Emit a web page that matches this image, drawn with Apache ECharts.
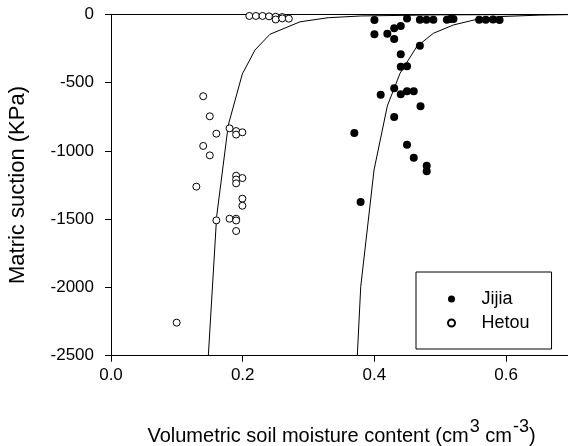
<!DOCTYPE html>
<html>
<head>
<meta charset="utf-8">
<script src="https://cdn.jsdelivr.net/npm/echarts@6/dist/echarts.min.js"></script>
<style>html,body{margin:0;padding:0;background:#fff}#c{width:568px;height:446px}</style>
</head>
<body>
<div id="c"></div>
<script>
var xTicks = [0.0, 0.2, 0.4, 0.6];
var yTicks = [0, -500, -1000, -1500, -2000, -2500];

var jijiaX = [0.400, 0.4495, 0.469, 0.479, 0.4895, 0.51, 0.515, 0.52, 0.559, 0.569, 0.580, 0.590,
  0.400, 0.4196, 0.43, 0.44, 0.43, 0.469, 0.44, 0.44, 0.4495, 0.43, 0.4095, 0.44, 0.4495, 0.4597,
  0.47, 0.43, 0.3695, 0.4495, 0.4597, 0.4794, 0.4794, 0.379];
var jijiaY = [-42, -30, -40, -40, -40, -40, -35, -35, -40, -40, -38, -42,
  -147, -142, -103, -86, -181, -230, -293, -384, -381, -542, -589, -586, -564, -564,
  -674, -752, -869, -955, -1050, -1109, -1150, -1375];

var hetouX = [0.21, 0.22, 0.23, 0.24, 0.25, 0.25, 0.26, 0.26, 0.27,
  0.14, 0.15, 0.16, 0.14, 0.15, 0.18, 0.19, 0.19, 0.1995,
  0.19, 0.1995, 0.19, 0.19, 0.1296, 0.1995, 0.1995, 0.16, 0.18, 0.19, 0.19, 0.19, 0.0997];
var hetouY = [-12, -12, -12, -15, -18, -38, -20, -30, -32,
  -600, -747, -874, -964, -1033, -835, -855, -881, -864,
  -1182, -1199, -1210, -1238, -1262, -1350, -1402, -1509, -1497, -1497, -1510, -1587, -2258];

var hetouFitX = [0.1478, 0.1604, 0.1781, 0.1994, 0.2187, 0.2415, 0.287, 0.33, 0.38, 0.5, 0.7];
var hetouFitY = [-2500, -1482, -811, -437, -261, -146, -55, -25, -12, -4, -1];

var jijiaFitX = [0.374, 0.3792, 0.3994, 0.4196, 0.4389, 0.4642, 0.4895, 0.52, 0.5553, 0.59, 0.65, 0.7];
var jijiaFitY = [-2500, -1995, -1140, -671, -432, -237, -139, -78, -37, -17, -6, -2];

function zip(a, b) { return a.map(function (v, i) { return [v, b[i]]; }); }

var FONT = '"Liberation Sans", Arial, sans-serif';
var chart = echarts.init(document.getElementById('c'), null, { renderer: 'canvas' });
chart.setOption({
  animation: false,
  backgroundColor: '#fff',
  textStyle: { fontFamily: FONT, color: '#000' },
  grid: { left: 111, top: 14.3, width: 461, height: 341.4, containLabel: false, outerBoundsMode: 'none' },
  legend: {
    left: 416, top: 272,
    orient: 'vertical',
    data: ['Jijia', 'Hetou'],
    borderColor: '#000', borderWidth: 1, borderRadius: 0,
    padding: [18, 22, 17, 31],
    itemWidth: 50, itemHeight: 7, itemGap: 6,
    textStyle: { fontSize: 18, fontFamily: FONT, color: '#000' },
    selectedMode: false
  },
  xAxis: [{
    type: 'value', min: 0, max: 0.7, interval: 0.2,
    splitLine: { show: false },
    axisLine: { onZero: false, lineStyle: { color: '#000', width: 1 } },
    axisTick: { show: true, inside: false, length: 6, lineStyle: { color: '#000' }, customValues: xTicks },
    axisLabel: {
      margin: 11, fontSize: 17, fontFamily: FONT, color: '#000',
      customValues: xTicks,
      formatter: function (v) { return (+v).toFixed(1); }
    },
    name: '{n|Volumetric soil moisture content (cm}{s|3}{n| cm}{s|-3}{n|)}',
    nameLocation: 'middle', nameGap: 62,
    nameTextStyle: {
      fontFamily: FONT, color: '#000',
      rich: {
        n: { fontSize: 20, fontFamily: FONT, color: '#000', verticalAlign: 'bottom' },
        s: { fontSize: 18, fontFamily: FONT, color: '#000', verticalAlign: 'bottom', padding: [0, 0, 11, 1] }
      }
    }
  }, {
    type: 'value', min: 0, max: 0.7, position: 'top',
    splitLine: { show: false },
    axisLine: { onZero: false, lineStyle: { color: '#000', width: 1 } },
    axisTick: { show: false }, axisLabel: { show: false }
  }],
  yAxis: {
    type: 'value', min: -2500, max: 0, interval: 500,
    splitLine: { show: false },
    axisLine: { show: true, onZero: false, lineStyle: { color: '#000', width: 1 } },
    axisTick: { show: true, inside: false, length: 6, lineStyle: { color: '#000' } },
    axisLabel: {
      margin: 17, fontSize: 17, fontFamily: FONT, color: '#000',
      formatter: function (v) { return yTicks.indexOf(v) >= 0 ? String(v) : ''; }
    },
    name: 'Matric suction (KPa)',
    nameLocation: 'middle', nameGap: 82,
    nameTextStyle: { fontSize: 22, fontFamily: FONT, color: '#000' }
  },
  series: [{
    name: 'Hetou fit', type: 'line', data: zip(hetouFitX, hetouFitY),
    showSymbol: false, symbol: 'none', smooth: false,
    lineStyle: { color: '#000', width: 1 }, z: 1
  }, {
    name: 'Jijia fit', type: 'line', data: zip(jijiaFitX, jijiaFitY),
    showSymbol: false, symbol: 'none', smooth: false,
    lineStyle: { color: '#000', width: 1 }, z: 1
  }, {
    name: 'Jijia', type: 'scatter', data: zip(jijiaX, jijiaY),
    symbol: 'circle', symbolSize: 8,
    itemStyle: { color: '#000', borderColor: '#000', borderWidth: 0, opacity: 1 }, z: 3
  }, {
    name: 'Hetou', type: 'scatter', data: zip(hetouX, hetouY),
    symbol: 'circle', symbolSize: 7,
    itemStyle: { color: '#fff', borderColor: '#000', borderWidth: 1, opacity: 1 }, z: 4
  }]
});
</script>
</body>
</html>
